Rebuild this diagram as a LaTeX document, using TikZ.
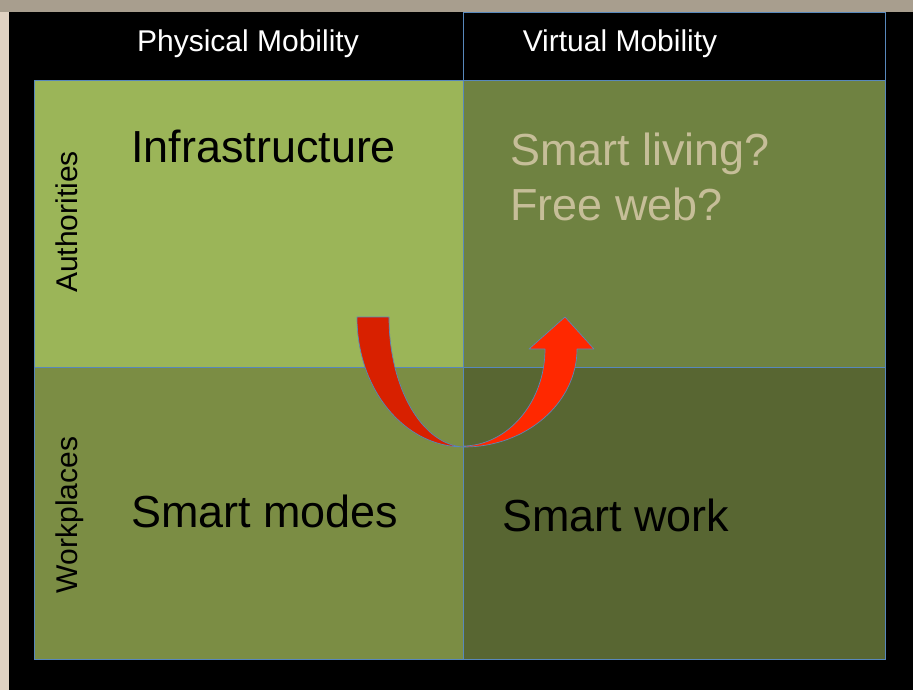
\documentclass[tikz,border=0pt]{standalone}
\usepackage{fontspec}
\setmainfont{Liberation Sans}
\definecolor{wallbg}{RGB}{224,210,194}
\definecolor{walltop}{RGB}{168,158,142}
\definecolor{lightgreen}{RGB}{155,181,88}
\definecolor{midgreen}{RGB}{111,130,65}
\definecolor{olivegreen}{RGB}{123,141,68}
\definecolor{darkgreen}{RGB}{88,102,50}
\definecolor{edgeblue}{RGB}{88,136,188}
\definecolor{backred}{RGB}{216,32,0}
\definecolor{frontred}{RGB}{255,40,0}
\definecolor{palebeige}{RGB}{198,190,152}
\begin{document}
\begin{tikzpicture}[x=0.75pt,y=-0.75pt,
  cell/.style={draw=edgeblue,line width=0.6pt},
  head/.style={text=white,font=\fontsize{22.5}{27}\selectfont,inner sep=0pt,anchor=base},
  side/.style={font=\fontsize{22.5}{27}\selectfont,inner sep=0pt,anchor=base,rotate=90},
  big/.style={font=\fontsize{33.7}{40}\selectfont,inner sep=0pt,anchor=base west}]
\useasboundingbox (0,0) rectangle (913,690);
\fill [wallbg] (0,0) rectangle (913,690);
\fill [walltop] (0,0) rectangle (913,12);
\fill [black] (9,12) rectangle (913,690);

% the four cells
\fill [lightgreen] (34,80) rectangle (463,367);
\fill [midgreen] (463,80) rectangle (885,367);
\fill [olivegreen] (34,367) rectangle (463,659);
\fill [darkgreen] (463,367) rectangle (885,659);
\draw [cell] (34,80) rectangle (885,659);
\draw [cell] (463,12) rectangle (885,80);
\draw [cell] (463,80) -- (463,659);
\draw [cell] (34,367) -- (885,367);

\node [head] (physical) at (248,51) {Physical Mobility};
\node [head] (virtual) at (620,51) {Virtual Mobility};
\node [side] (authorities) at (77,222) {Authorities};
\node [side] (workplaces) at (77,515) {Workplaces};

\node [big] (infra) at (131,162) {Infrastructure};
\node [big,text=palebeige] (living) at (510,165) {Smart living?};
\node [big,text=palebeige] (freeweb) at (510,220) {Free web?};
\node [big] (modes) at (131,527) {Smart modes};
\node [big] (work) at (502,531) {Smart work};

% turning arrow
\filldraw [draw=edgeblue,line width=0.5pt,line join=round,fill=backred]
  (357,317) .. controls (357,389) and (404,447) .. (464,447)
  .. controls (422,445) and (389,388) .. (389,317) -- cycle;
\filldraw [draw=edgeblue,line width=0.5pt,line join=round,fill=frontred]
  (464,447) .. controls (526,447) and (577,403) .. (577,349)
  -- (594,349) -- (565,317) -- (529,349) -- (545,349)
  .. controls (545,402) and (508,445) .. (464,446) -- cycle;
\end{tikzpicture}
\end{document}
